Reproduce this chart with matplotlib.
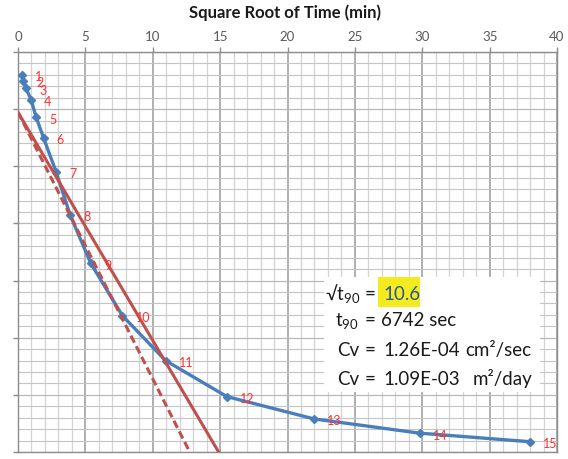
import matplotlib
matplotlib.use('Agg')
import matplotlib.pyplot as plt
import numpy as np
from matplotlib.ticker import MultipleLocator
from matplotlib.patches import Rectangle

plt.rcParams['font.family'] = ['Lato', 'DejaVu Sans']

# ---- data ----
sqrt_time = [0.28, 0.40, 0.60, 0.97, 1.35, 1.90, 2.83, 3.87, 5.40, 7.75,
             10.95, 15.50, 21.95, 29.80, 38.00]
reading = [0.40, 0.50, 0.635, 0.835, 1.143, 1.505, 2.10, 2.853, 3.698, 4.615,
           5.40, 6.03, 6.42, 6.67, 6.82]
point_labels = [str(i) for i in range(1, 16)]
x_ticks = [0, 5, 10, 15, 20, 25, 30, 35, 40]
line_intercept = 1.055
initial_slope = 0.4666      # dashed line through the early points
corrected_slope = 0.3993    # solid line (abscissas x 1.15)
y_bottom = 7.0

W, H = 568, 460
fig = plt.figure(figsize=(W / 100, H / 100), dpi=100)


def fx(px):
    return px / W


def fy(py):
    return 1 - py / H


ax = fig.add_axes([fx(18), fy(453), fx(557) - fx(18), fy(53) - fy(453)])
ax.set_xlim(0, 40)
ax.set_ylim(y_bottom, 0)

ax.xaxis.set_major_locator(MultipleLocator(5))
ax.xaxis.set_minor_locator(MultipleLocator(1))
ax.yaxis.set_major_locator(MultipleLocator(1))
ax.yaxis.set_minor_locator(MultipleLocator(0.2))
ax.set_xticks(x_ticks)

ax.xaxis.tick_top()
ax.tick_params(axis='x', which='major', top=True, bottom=False, length=3.6,
               width=1, color='#8c8c8c', labelsize=9.5, labelcolor='#595959', pad=3.5)
ax.tick_params(axis='x', which='minor', top=False, bottom=False, length=0)
ax.tick_params(axis='y', which='major', left=True, right=False, length=3.6,
               width=1, color='#8c8c8c', labelleft=False)
ax.tick_params(axis='y', which='minor', left=False, length=0)

ax.xaxis.grid(True, which='major', color='#9a9a9a', lw=1.1, zorder=0)
ax.xaxis.grid(True, which='minor', color='#d4d4d4', lw=0.9, zorder=0)
ax.yaxis.grid(True, which='major', color='#b8b8b8', lw=0.9, zorder=0)
ax.yaxis.grid(True, which='minor', color='#c4c4c4', lw=0.8, zorder=0)
ax.set_axisbelow(True)
for s in ax.spines.values():
    s.set_color('#8c8c8c')
    s.set_linewidth(1)

# blue data curve
ax.plot(sqrt_time, reading, color='#4A7EBB', lw=2.4, marker='D', ms=4.4,
        mec='#4A7EBB', mfc='#4A7EBB', zorder=3, solid_capstyle='round')

# red construction lines
x_end_d = (y_bottom - line_intercept) / initial_slope
xd = np.array([0, x_end_d])
ax.plot(xd, line_intercept + initial_slope * xd, color='#C0504D', lw=2.2,
        ls=(0, (2.6, 1.3)), zorder=4)
x_end_s = (y_bottom - line_intercept) / corrected_slope
xs = np.array([0, x_end_s])
ax.plot(xs, line_intercept + corrected_slope * xs, color='#C0504D', lw=2.2,
        zorder=4)

for xv, yv, lab in zip(sqrt_time, reading, point_labels):
    ax.annotate(lab, (xv, yv), xytext=(9.5, -1), textcoords='offset points',
                ha='left', va='center', fontsize=9, color='#FF3030', zorder=5)

# title
fig.text(fx(285), fy(18), 'Square Root of Time (min)', ha='center',
         va='baseline', fontsize=12, fontweight='bold', color='#1a1a1a')

# result box
fig.patches.append(Rectangle((fx(324), fy(393)), fx(540) - fx(324),
                             fy(278) - fy(393), transform=fig.transFigure,
                             facecolor='white', edgecolor='none', zorder=6))
fig.patches.append(Rectangle((fx(378), fy(308)), fx(420) - fx(378),
                             fy(278) - fy(308), transform=fig.transFigure,
                             facecolor='#F2EC1E', edgecolor='none', zorder=7))

tc = '#1a1a1a'
fs = 13.5
kw = dict(ha='left', va='baseline', fontsize=fs, color=tc, zorder=8)
fig.text(fx(325), fy(300), r'√$\mathregular{t_{90}}$', **kw)
fig.text(fx(365), fy(300), '=', **kw)
fig.text(fx(383), fy(300), '10.6', **{**kw, 'color': '#2F5597'})

fig.text(fx(335), fy(326), r'$\mathregular{t_{90}}$', **kw)
fig.text(fx(365), fy(326), '=', **kw)
fig.text(fx(381), fy(326), '6742 sec', **kw)

fig.text(fx(337), fy(356), 'Cv', **kw)
fig.text(fx(365), fy(356), '=', **kw)
fig.text(fx(383), fy(356), '1.26E-04', **kw)
fig.text(fx(465), fy(356), 'cm²/sec', **kw)

fig.text(fx(337), fy(385), 'Cv', **kw)
fig.text(fx(365), fy(385), '=', **kw)
fig.text(fx(383), fy(385), '1.09E-03', **kw)
fig.text(fx(473), fy(385), 'm²/day', **kw)

fig.savefig('out.png', dpi=100)
